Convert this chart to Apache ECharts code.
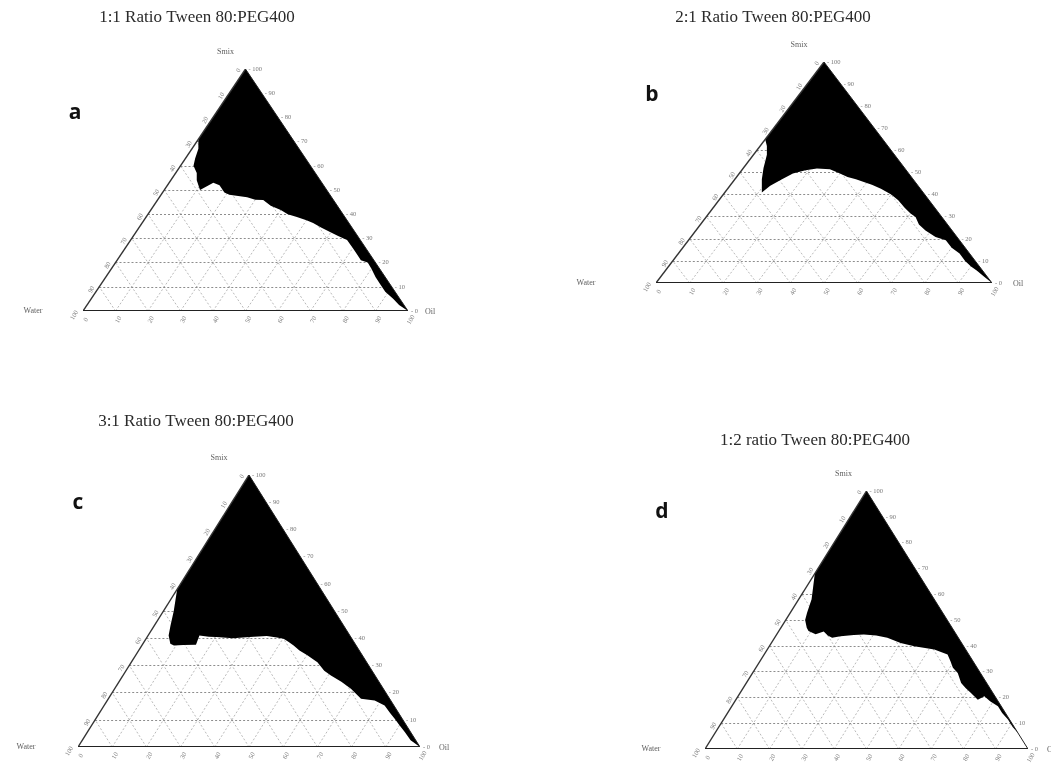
<!DOCTYPE html>
<html style="height: 100%">
<head>
<meta charset="utf-8">
<title>Ternary phase diagrams</title>
<script src="https://cdn.jsdelivr.net/npm/echarts@6/dist/echarts.min.js"></script>
</head>
<body style="height: 100%; margin: 0; background: #fff">
<div id="container" style="width: 1051px; height: 765px"></div>
<script>
var titles = ['1:1 Ratio Tween 80:PEG400', '2:1 Ratio Tween 80:PEG400', '3:1 Ratio Tween 80:PEG400', '1:2 ratio Tween 80:PEG400'];
var letters = ['a', 'b', 'c', 'd'];
var ticks = [0, 10, 20, 30, 40, 50, 60, 70, 80, 90, 100];
var gridTicks = [10, 20, 30, 40, 50, 60, 70, 80, 90];

// black region boundary, [oil %, smix %] (water is the rest); closes along the oil-smix edge
var phaseA = [[0,100],[0,71],[2,67],[3,63],[4,60],[6.5,57],[8,54],[11,50],[13.6,53],[16,52],[19,49],[21,48],[24,47.5],[27,47],[30,46],[32.5,45.9],[36,43.5],[40,41.7],[43,40],[46.4,38.8],[50,37.5],[52.6,36.4],[56,34.5],[59.7,32.6],[63,31],[66.6,29.3],[70,26],[73,23],[75,21],[77.6,20],[80,17.5],[83,14],[86,11],[89,8],[93,5],[96,2.5],[100,0]];
var phaseB = [[0,100],[0,65],[2,62],[4,58],[5,55],[6,52],[8,47],[10,43],[11,41],[12,44],[14,47],[16,49.5],[19,51],[22,51.8],[26,51.5],[30,49.5],[33,48],[36,47],[39,45.7],[42,44.5],[45.6,42.7],[50,40],[53.4,37.4],[57,34],[60,31.5],[62.3,29.9],[65,26.5],[68.3,23.8],[72.8,20.8],[76.6,19.3],[80,16],[83.7,13.3],[87,10],[90,7.5],[92.6,5.7],[96,3],[100,0]];
var phaseC = [[0,100],[0,58],[1.5,54],[3,50],[4.7,44.7],[6,41],[8,38],[9.4,37.3],[12,37.5],[15.7,37.6],[15,41],[18,40.5],[20.2,40.4],[25.3,40],[30,40.4],[34.8,40.8],[38,40.3],[40.2,39.8],[42,38.8],[44.4,37.3],[47,35.5],[50.2,33.7],[54.4,31.2],[58,28],[60.8,26.3],[65,24],[69.1,21.4],[73.9,17.7],[78.2,17.1],[82,15.3],[85,12.5],[87.4,10.4],[90,8],[92.8,5.5],[96,2.5],[100,0]];
var phaseD = [[0,100],[0,68],[2,63],[4,58],[5.2,52.8],[6,50],[8,47],[9.2,45.7],[12,44.5],[14,45.5],[16,44],[17.8,43.1],[20.1,43.7],[24,44.2],[27,44.4],[31,44],[34.9,43.1],[40,41.1],[44.9,39.8],[51.7,38.6],[56.8,36.6],[59,34],[61,31.5],[63.5,29.5],[66.5,25.6],[69,23.5],[71.5,21.7],[74.9,19.1],[76.3,20.4],[79,18.5],[82.4,16.6],[85,14],[88.1,11.4],[91,8.5],[93.8,6.2],[97,3],[100,0]];
var phases = [phaseA, phaseB, phaseC, phaseD];

// layout of each panel
var boxes = [
  {left: 83, top: 69, width: 325, height: 242, title: [197, 18], letter: [75, 113], smix: [-20, -17], water: -50, oil: 22},
  {left: 656, top: 62, width: 336, height: 221, title: [773, 18], letter: [652, 95], smix: [-25, -17], water: -70, oil: 26},
  {left: 78, top: 475, width: 342, height: 272, title: [196, 422], letter: [78, 503], smix: [-30, -17], water: -52, oil: 24},
  {left: 705, top: 491, width: 323, height: 258, title: [815, 441], letter: [662, 512], smix: [-23, -17], water: -54, oil: 24}
];

function toXY(oil, smix) {
  return [oil + smix / 2, smix];
}

var dom = document.getElementById('container');
var myChart = echarts.init(dom);

var grids = [], xAxes = [], yAxes = [], series = [], graphics = [];
var smallFont = {fontSize: 6.5, color: '#555', fontFamily: 'Liberation Serif'};

boxes.forEach(function (b, i) {
  grids.push({left: b.left, top: b.top, width: b.width, height: b.height});
  xAxes.push({gridIndex: i, type: 'value', min: 0, max: 100, show: false});
  yAxes.push({gridIndex: i, type: 'value', min: 0, max: 100, show: false});

  // dashed grid: horizontal (constant smix) and the two diagonal families
  var hl = [], dl = [];
  gridTicks.forEach(function (t) {
    hl.push({coords: [toXY(0, t), toXY(100 - t, t)]});
    dl.push({coords: [toXY(t, 0), toXY(t, 100 - t)]});
    dl.push({coords: [toXY(100 - t, 0), toXY(0, 100 - t)]});
  });
  series.push({
    type: 'lines', coordinateSystem: 'cartesian2d', xAxisIndex: i, yAxisIndex: i,
    silent: true, z: 1, data: dl,
    lineStyle: {color: '#a8a8a8', width: 0.8, type: [2, 2], opacity: 1}
  });
  series.push({
    type: 'lines', coordinateSystem: 'cartesian2d', xAxisIndex: i, yAxisIndex: i,
    silent: true, z: 2, data: hl,
    lineStyle: {color: '#808080', width: 0.9, type: [2, 2], opacity: 1}
  });

  // black region
  series.push({
    type: 'custom', xAxisIndex: i, yAxisIndex: i, silent: true, z: 3,
    data: [[0, 0]],
    renderItem: function (params, api) {
      var pts = phases[i].map(function (p) { return api.coord(toXY(p[0], p[1])); });
      return {type: 'polygon', shape: {points: pts}, style: {fill: '#000'}};
    }
  });

  // triangle outline
  series.push({
    type: 'lines', coordinateSystem: 'cartesian2d', xAxisIndex: i, yAxisIndex: i,
    silent: true, z: 4,
    data: [
      {coords: [toXY(0, 0), toXY(0, 100)], lineStyle: {width: 1.4, color: '#333'}},
      {coords: [toXY(0, 0), toXY(100, 0)], lineStyle: {width: 2.2, color: '#222'}},
      {coords: [toXY(100, 0), toXY(0, 100)], lineStyle: {width: 1, color: '#222'}}
    ],
    lineStyle: {opacity: 1}
  });

  // smix ticks (right side)
  series.push({
    type: 'scatter', xAxisIndex: i, yAxisIndex: i, silent: true, z: 5, symbolSize: 0,
    data: ticks.map(function (t) { return {value: toXY(100 - t, t), label: {formatter: '- ' + t}}; }),
    label: Object.assign({show: true, position: 'right', distance: 3}, smallFont)
  });
  // water ticks (left side)
  series.push({
    type: 'scatter', xAxisIndex: i, yAxisIndex: i, silent: true, z: 5, symbolSize: 0,
    data: ticks.map(function (t) { return {value: toXY(0, 100 - t), label: {formatter: String(t)}}; }),
    label: Object.assign({show: true, position: 'left', distance: 6, rotate: 60}, smallFont)
  });
  // oil ticks (bottom)
  series.push({
    type: 'scatter', xAxisIndex: i, yAxisIndex: i, silent: true, z: 5, symbolSize: 0,
    data: ticks.map(function (t) { return {value: toXY(t, 0), label: {formatter: String(t)}}; }),
    label: Object.assign({show: true, position: 'bottom', distance: 7, rotate: 60}, smallFont)
  });
  // vertex names
  series.push({
    type: 'scatter', xAxisIndex: i, yAxisIndex: i, silent: true, z: 5, symbolSize: 0,
    data: [
      {value: toXY(0, 100), label: {formatter: 'Smix', offset: b.smix}},
      {value: toXY(0, 0), label: {formatter: 'Water', offset: [b.water, 0]}},
      {value: toXY(100, 0), label: {formatter: 'Oil', offset: [b.oil, 1]}}
    ],
    label: {show: true, position: 'inside', fontSize: 8, color: '#333', fontFamily: 'Liberation Serif'}
  });

  graphics.push({
    type: 'text', x: b.title[0], y: b.title[1],
    style: {text: titles[i], font: '17px "Liberation Serif"', fill: '#2a2a2a', align: 'center', verticalAlign: 'middle'}
  });
  graphics.push({
    type: 'text', x: b.letter[0], y: b.letter[1],
    style: {text: letters[i], font: 'bold 21px "Open Sans"', fill: '#111', align: 'center', verticalAlign: 'middle'}
  });
});

var option = {
  backgroundColor: '#fff',
  animation: false,
  grid: grids,
  xAxis: xAxes,
  yAxis: yAxes,
  graphic: graphics,
  series: series
};
myChart.setOption(option);
</script>
</body>
</html>
